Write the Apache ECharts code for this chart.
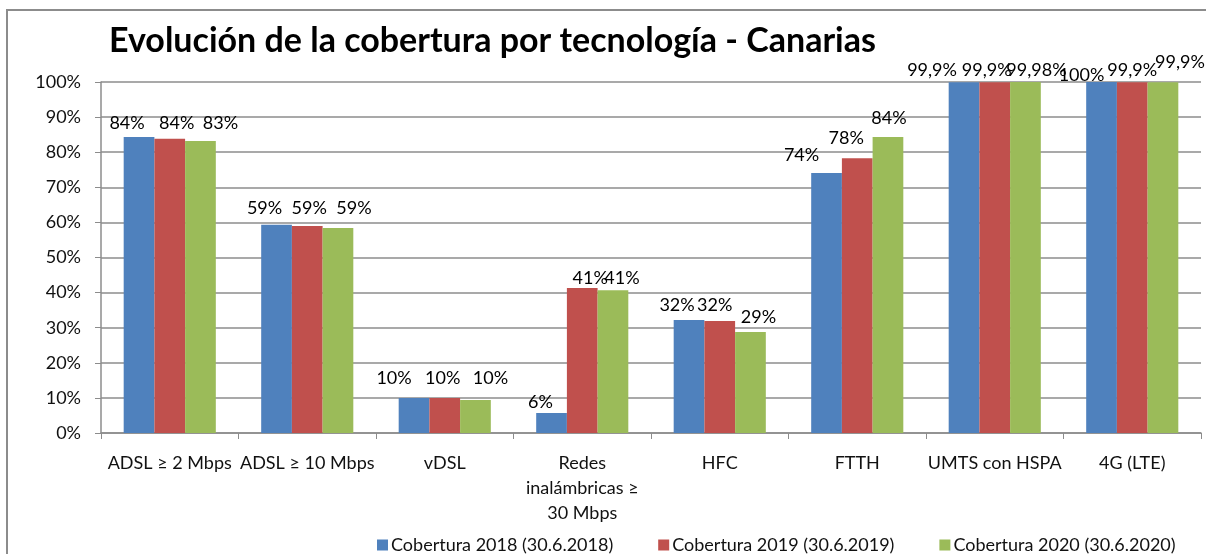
<!DOCTYPE html>
<html>
<head>
<meta charset="utf-8">
<script src="https://cdn.jsdelivr.net/npm/echarts@6/dist/echarts.min.js"></script>
<style>
  html, body { margin: 0; padding: 0; background: #fff; }
  #chart { width: 1206px; height: 554px; }
</style>
</head>
<body>
<div id="chart"></div>
<script>
// categorías (eje x)
var categorias = ['ADSL ≥ 2 Mbps', 'ADSL ≥ 10 Mbps', 'vDSL', 'Redes\ninalámbricas ≥\n30 Mbps', 'HFC', 'FTTH', 'UMTS con HSPA', '4G (LTE)'];
// valores por año (%)
var cob2018 = [84.3, 59.3, 10.0, 5.7, 32.2, 74.1, 99.9, 99.97];
var cob2019 = [83.8, 59.0, 10.0, 41.3, 31.9, 78.3, 99.9, 99.9];
var cob2020 = [83.2, 58.4, 9.4, 40.7, 28.8, 84.3, 99.98, 99.9];
// etiquetas tal como aparecen
var etq2018 = ['84%', '59%', '10%', '6%', '32%', '74%', '99,9%', '100%'];
var etq2019 = ['84%', '59%', '10%', '41%', '32%', '78%', '99,9%', '99,9%'];
var etq2020 = ['83%', '59%', '10%', '41%', '29%', '84%', '99,98%', '99,9%'];
var nombres = ['Cobertura 2018 (30.6.2018)', 'Cobertura 2019 (30.6.2019)', 'Cobertura 2020 (30.6.2020)'];
var colores = ['#4F81BD', '#C0504D', '#9BBB59'];
var ticksY = ['0%', '10%', '20%', '30%', '40%', '50%', '60%', '70%', '80%', '90%', '100%'];

// etiquetas movidas a mano en el original (px horizontal, px sobre la barra)
var movX = [[-12, -12, -20, -11, -12, -25, -32, -20],
            [7, 2, -2, 8, -5, -11, -8, 0],
            [20, 16, 15, 9, 8, 1, 11, 17]];
var movY = [[14, 17, 20, 11, 15, 18, 12, 7],
            [16, 18, 20, 10, 16, 20, 12, 12],
            [18, 20, 22, 12, 15, 19, 12, 20]];

var fuente = 'Lato';

function serie(i, valores, etiquetas) {
    let datos = [];
    for (let k = 0; k < valores.length; k++) {
        datos.push({
            value: valores[k],
            label: { offset: [movX[i][k], 9 - movY[i][k]] }
        });
    }
    return {
        name: nombres[i],
        type: 'bar',
        barGap: '0%',
        barCategoryGap: '33%',
        animation: false,
        data: datos,
        label: {
            show: true,
            position: 'top',
            distance: 0,
            fontFamily: fuente,
            fontSize: 18,
            color: '#000',
            formatter: function (p) { return etiquetas[p.dataIndex]; }
        }
    };
}

var myChart = echarts.init(document.getElementById('chart'));
myChart.setOption({
    color: colores,
    textStyle: { fontFamily: fuente },
    graphic: [{
        type: 'rect',
        shape: { x: 7, y: 10, width: 1300, height: 700 },
        style: { fill: 'none', stroke: '#8c8c8c', lineWidth: 2 },
        silent: true
    }],
    title: {
        text: 'Evolución de la cobertura por tecnología - Canarias',
        left: 104,
        top: 19,
        textStyle: { fontFamily: fuente, fontSize: 34, fontWeight: 'bold', color: '#000' }
    },
    legend: {
        left: 377,
        top: 536,
        padding: 0,
        itemWidth: 11,
        itemHeight: 11,
        itemGap: 45,
        icon: 'rect',
        textStyle: { fontFamily: fuente, fontSize: 18, color: '#111', padding: [0, 0, 0, -2] },
        data: nombres
    },
    grid: { left: 101, right: 5, top: 82, bottom: 121 },
    xAxis: {
        type: 'category',
        data: categorias,
        axisLine: { lineStyle: { color: '#8c8c8c', width: 1.5 } },
        axisTick: { show: true, length: 6, lineStyle: { color: '#8c8c8c' } },
        axisLabel: { interval: 0, margin: 18, fontFamily: fuente, fontSize: 18, color: '#111', lineHeight: 25 }
    },
    yAxis: {
        type: 'value',
        min: 0,
        max: 100,
        interval: 10,
        axisLine: { show: true, lineStyle: { color: '#8c8c8c', width: 1.5 } },
        axisTick: { show: true, length: 6, lineStyle: { color: '#8c8c8c' } },
        splitLine: { show: true, lineStyle: { color: '#8c8c8c', width: 1.5 } },
        axisLabel: {
            margin: 20,
            fontFamily: fuente,
            fontSize: 18,
            color: '#111',
            formatter: function (v) { return ticksY[Math.round(v / 10)]; }
        }
    },
    series: [
        serie(0, cob2018, etq2018),
        serie(1, cob2019, etq2019),
        serie(2, cob2020, etq2020)
    ]
});
</script>
</body>
</html>
